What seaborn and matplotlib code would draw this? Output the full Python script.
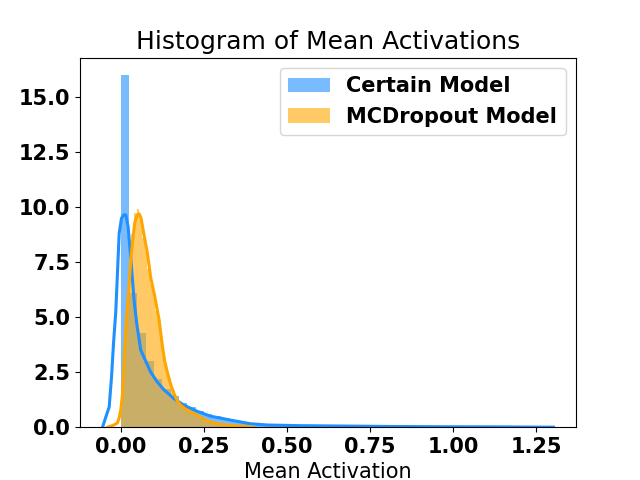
import numpy as np
import matplotlib
matplotlib.use("Agg")
import matplotlib.pyplot as plt
from matplotlib.ticker import MultipleLocator
import seaborn as sns

# Histogram densities (50 bins each)
certain_edges = list(np.linspace(0.0, 1.25, 51))
certain_density = [16.0, 6.1, 4.3, 3.0, 2.2, 1.75, 1.4, 1.1, 0.9, 0.75,
                   0.62, 0.5, 0.4, 0.32, 0.26, 0.2, 0.16, 0.13, 0.1, 0.09,
                   0.08, 0.07, 0.065, 0.06, 0.055, 0.05, 0.045, 0.04, 0.04, 0.035,
                   0.03, 0.03, 0.025, 0.025, 0.02, 0.02, 0.02, 0.015, 0.015, 0.015,
                   0.01, 0.01, 0.01, 0.01, 0.01, 0.005, 0.005, 0.005, 0.005, 0.005]

mc_edges = list(np.linspace(0.0, 0.4, 51))
mc_density = [0.8, 3.5, 5.5, 7.2, 8.8, 9.75, 9.9, 9.5, 8.6, 8.0,
              7.2, 6.5, 5.9, 5.3, 4.7, 3.8, 3.1, 2.5, 2.0, 1.65,
              1.4, 1.2, 1.0, 0.9, 0.82, 0.72, 0.65, 0.6, 0.53, 0.47,
              0.42, 0.36, 0.3, 0.25, 0.21, 0.18, 0.16, 0.14, 0.12, 0.1,
              0.09, 0.08, 0.07, 0.06, 0.05, 0.04, 0.03, 0.02, 0.015, 0.01]

# KDE curves
certain_kde_x = [-0.055, -0.045, -0.035, -0.028, -0.022, -0.015, -0.005, 0.002, 0.009, 0.015,
                 0.022, 0.032, 0.040, 0.048, 0.060, 0.075, 0.090, 0.110, 0.130, 0.160,
                 0.190, 0.230, 0.270, 0.338, 0.389, 0.440, 0.539, 0.689, 0.838, 0.988,
                 1.138, 1.302]
certain_kde_y = [0.0, 0.47, 0.92, 2.28, 3.8, 5.3, 8.8, 9.5, 9.65, 9.65,
                 9.1, 7.3, 5.75, 4.7, 3.5, 3.0, 2.5, 2.05, 1.7, 1.3,
                 1.0, 0.72, 0.5, 0.3, 0.16, 0.1, 0.07, 0.05, 0.03, 0.02,
                 0.015, 0.0]

mc_kde_x = [-0.040, -0.030, -0.018, -0.010, -0.0045, 0.0, 0.005, 0.010, 0.015, 0.020,
            0.025, 0.030, 0.035, 0.042, 0.048, 0.055, 0.061, 0.069, 0.080, 0.090,
            0.100, 0.110, 0.115, 0.120, 0.125, 0.132, 0.140, 0.150, 0.160, 0.170,
            0.180, 0.195, 0.210, 0.225, 0.240, 0.254, 0.269, 0.284, 0.299, 0.329,
            0.359, 0.400]
mc_kde_y = [0.0, 0.05, 0.12, 0.2, 0.45, 0.8, 1.5, 3.0, 4.5, 5.5,
            6.5, 7.6, 8.4, 9.3, 9.6, 9.7, 9.5, 8.8, 7.9, 6.8,
            6.1, 5.3, 4.9, 4.3, 3.7, 3.0, 2.5, 1.95, 1.53, 1.2,
            1.0, 0.82, 0.69, 0.58, 0.45, 0.33, 0.24, 0.18, 0.14, 0.08,
            0.05, 0.0]

certain_centers = [(a + b) / 2 for a, b in zip(certain_edges[:-1], certain_edges[1:])]
mc_centers = [(a + b) / 2 for a, b in zip(mc_edges[:-1], mc_edges[1:])]

fig, ax = plt.subplots(figsize=(6.4, 4.8), dpi=100)

sns.histplot(x=certain_centers, weights=certain_density, bins=certain_edges,
             stat='count', color='dodgerblue', alpha=0.6, linewidth=0,
             label='Certain Model', ax=ax)
sns.histplot(x=mc_centers, weights=mc_density, bins=mc_edges,
             stat='count', color='orange', alpha=0.6, linewidth=0,
             label='MCDropout Model', ax=ax)

sns.lineplot(x=certain_kde_x, y=certain_kde_y, color='dodgerblue', linewidth=2.2, ax=ax)
sns.lineplot(x=mc_kde_x, y=mc_kde_y, color='orange', linewidth=2.2, ax=ax)

ax.xaxis.set_major_locator(MultipleLocator(0.25))
ax.yaxis.set_major_locator(MultipleLocator(2.5))
ax.set_title('Histogram of Mean Activations', fontsize=18)
ax.set_xlabel('Mean Activation', fontsize=15)
ax.set_ylabel('')
plt.xticks(fontsize=15, fontweight='bold')
plt.yticks(fontsize=15, fontweight='bold')
ax.legend(loc='upper right', prop={'size': 15, 'weight': 'bold'})

plt.savefig('out.png', dpi=100)
